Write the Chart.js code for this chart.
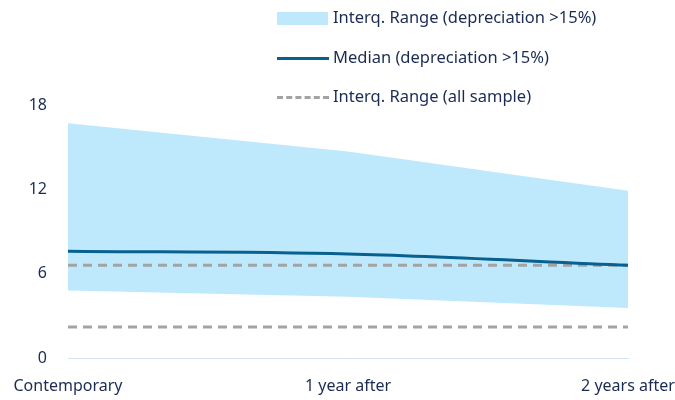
<!DOCTYPE html>
<html>
<head>
<meta charset="utf-8">
<script src="https://cdn.jsdelivr.net/npm/chart.js@4/dist/chart.umd.min.js"></script>
<style>
    body { margin: 0; background: #fff; font-family: "Noto Sans", sans-serif; }
    #wrap { position: relative; width: 675px; height: 400px; }
    #legend { position: absolute; left: 277px; top: 3px; color: #1b2b52; font-size: 16.5px; }
    .item { position: relative; height: 39.5px; line-height: 28px; padding-left: 56px; white-space: nowrap; }
    .sw { position: absolute; left: 0; }
</style>
</head>
<body>
<div id="wrap">
    <canvas id="chartCanvas" width="675" height="400"></canvas>
    <div id="legend">
        <div class="item"><span class="sw" style="top:9px;width:51px;height:13px;background:#bee9fd"></span>Interq. Range (depreciation &gt;15%)</div>
        <div class="item"><span class="sw" style="top:14px;width:52px;height:3px;background:#08608f"></span>Median (depreciation &gt;15%)</div>
        <div class="item"><span class="sw" style="top:14px;width:52px;height:0;border-top:3px dashed #a3a3a3"></span>Interq. Range (all sample)</div>
    </div>
</div>
<script>
const categories = ['Contemporary', '1 year after', '2 years after'];
const rangeLow = [4.8, 4.35, 3.55];
const rangeHigh = [16.7, 14.7, 11.9];
const median = [7.6, 7.4, 6.6];
const sampleHigh = [6.6, 6.6, 6.6];
const sampleLow = [2.2, 2.2, 2.2];
const yTicks = [0, 6, 12, 18];

const navy = '#1b2b52';

const ctx = document.getElementById('chartCanvas').getContext('2d');
new Chart(ctx, {
    type: 'line',
    data: {
        labels: categories,
        datasets: [
            {
                label: 'low',
                data: rangeLow,
                borderWidth: 0,
                pointRadius: 0,
                fill: false,
                order: 3
            },
            {
                label: 'Interq. Range (depreciation >15%)',
                data: rangeHigh,
                borderWidth: 0,
                pointRadius: 0,
                backgroundColor: '#bee9fd',
                fill: 0,
                order: 3
            },
            {
                label: 'Interq. Range (all sample)',
                data: sampleHigh,
                borderColor: '#a3a3a3',
                borderWidth: 3,
                borderDash: [9, 6],
                pointRadius: 0,
                fill: false,
                order: 2
            },
            {
                label: 'sample low',
                data: sampleLow,
                borderColor: '#a3a3a3',
                borderWidth: 3,
                borderDash: [9, 6],
                pointRadius: 0,
                fill: false,
                order: 2
            },
            {
                label: 'Median (depreciation >15%)',
                data: median,
                borderColor: '#08608f',
                borderWidth: 3,
                pointRadius: 0,
                cubicInterpolationMode: 'monotone',
                fill: false,
                order: 1
            }
        ]
    },
    options: {
        responsive: false,
        animation: false,
        layout: { padding: { top: 105, right: 47, bottom: 0, left: 0 } },
        plugins: { legend: { display: false }, tooltip: { enabled: false } },
        scales: {
            x: {
                offset: false,
                afterFit: (scale) => {
                    scale.height = 42;
                    scale.paddingLeft = 0;
                    scale.paddingRight = 0;
                },
                grid: { display: false, drawTicks: false },
                border: { display: true, color: '#d3e4f6', width: 1 },
                ticks: {
                    color: navy,
                    font: { family: 'Noto Sans', size: 16 },
                    padding: 19,
                    maxRotation: 0
                }
            },
            y: {
                min: 0,
                max: 18,
                afterFit: (scale) => { scale.width = 68; },
                afterBuildTicks: (scale) => { scale.ticks = yTicks.map((v) => ({ value: v })); },
                grid: { display: false, drawTicks: false },
                border: { display: false },
                ticks: {
                    color: navy,
                    font: { family: 'Noto Sans', size: 16 },
                    padding: 21
                }
            }
        }
    }
});
</script>
</body>
</html>
